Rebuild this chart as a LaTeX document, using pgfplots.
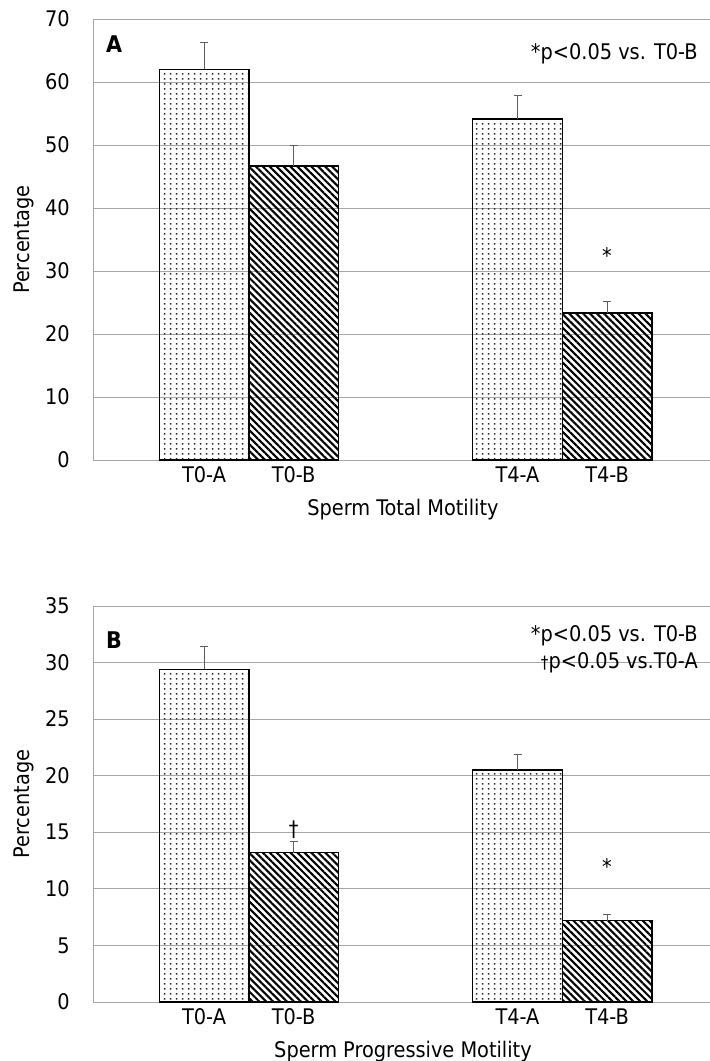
\documentclass[border=0pt]{standalone}
\usepackage{fontspec}
\setmainfont{DejaVu Sans Condensed}
\usepackage{pgfplots}
\pgfplotsset{compat=1.18}
\usetikzlibrary{patterns, patterns.meta}
\definecolor{gridgray}{HTML}{A6A6A6}
\definecolor{errgray}{HTML}{5E5E5E}

% sparse dot fill of the A groups
\pgfdeclarepatternformonly{sparsedots}{\pgfqpoint{0pt}{0pt}}{\pgfqpoint{6pt}{5pt}}{\pgfqpoint{6pt}{5pt}}{%
  \pgfpathrectangle{\pgfqpoint{2.2pt}{1.7pt}}{\pgfqpoint{1.6pt}{1.6pt}}\pgfusepath{fill}}

\newcommand{\fsz}{\fontsize{21.5}{25}\selectfont}

\pgfplotsset{
  motility/.style={
    scale only axis,
    width=620pt,
    xmin=-0.24, xmax=6.683,
    ymin=0,
    ybar, bar width=1, bar shift=0pt,
    xtick={1,2,4.5,5.5},
    xticklabels={T0-A,T0-B,T4-A,T4-B},
    major tick length=0pt,
    /pgf/number format/assume math mode=true,
    ymajorgrids,
    grid style={gridgray, line width=1pt},
    axis line style={gridgray, line width=1pt},
    yticklabel style={anchor=east, inner sep=0pt, xshift=-23pt},
    xticklabel style={anchor=base, inner sep=0pt, yshift=-22pt},
    ylabel={Percentage},
    ylabel style={rotate=0, anchor=base, inner sep=0pt, at={(axis description cs:-0.1021,0.5)}},
    xlabel style={anchor=base, inner sep=0pt},
    clip=false,
  },
  groupA/.style={draw=black, line width=1.5pt, pattern=sparsedots, pattern color=black!85,
    error bars/.cd, y dir=plus, y explicit,
    error bar style={errgray, line width=1pt},
    error mark options={errgray, line width=1pt, rotate=90, mark size=4pt}},
  groupB/.style={draw=black, line width=1.5pt, pattern={Lines[angle=-45, distance=4.9pt, line width=2.1pt]}, pattern color=black,
    error bars/.cd, y dir=plus, y explicit,
    error bar style={errgray, line width=1pt},
    error mark options={errgray, line width=1pt, rotate=90, mark size=4pt}},
}

\begin{document}
\begin{tikzpicture}[font=\fsz]
\path[use as bounding box] (0,0) rectangle (710pt,-1061pt);

% Panel A: total motility
\begin{axis}[motility,
  at={(93pt,-460pt)}, anchor=south west,
  height=441pt, ymax=70, ytick={0,10,...,70},
  xlabel={Sperm Total Motility},
  xlabel style={at={(axis description cs:0.5,-0.1247)}},
]
\addplot[groupA] coordinates {(1,62.0) +- (0,4.3) (4.5,54.1) +- (0,3.7)};
\addplot[groupB] coordinates {(2,46.7) +- (0,3.3) (5.5,23.3) +- (0,1.8)};
\node[font=\fontsize{23}{25}\selectfont\bfseries, anchor=center] at (axis description cs:0.034,0.942) {A};
\node[anchor=base east, inner sep=0pt] at (axis description cs:0.9757,0.9093) {*p<0.05 vs. T0-B};
\node[anchor=center, inner sep=0pt] at (axis cs:5.5,32.4) {*};
\end{axis}

% Panel B: progressive motility
\begin{axis}[motility,
  at={(93pt,-1002pt)}, anchor=south west,
  height=396pt, ymax=35, ytick={0,5,...,35},
  xlabel={Sperm Progressive Motility},
  xlabel style={at={(axis description cs:0.5,-0.1389)}},
]
\addplot[groupA] coordinates {(1,29.4) +- (0,2.0) (4.5,20.5) +- (0,1.4)};
\addplot[groupB] coordinates {(2,13.2) +- (0,1.0) (5.5,7.2) +- (0,0.5)};
\node[font=\fontsize{23}{25}\selectfont\bfseries, anchor=center] at (axis description cs:0.034,0.914) {B};
\node[anchor=base east, inner sep=0pt] at (axis description cs:0.9757,0.9098) {*p<0.05 vs. T0-B};
\node[anchor=base east, inner sep=0pt] at (axis description cs:0.9757,0.8434) {{\fontsize{17}{17}\selectfont †}p<0.05 vs.T0-A};
\node[anchor=center, inner sep=0pt] at (axis cs:2,15.2) {†};
\node[anchor=center, inner sep=0pt] at (axis cs:5.5,12.0) {*};
\end{axis}
\end{tikzpicture}
\end{document}
